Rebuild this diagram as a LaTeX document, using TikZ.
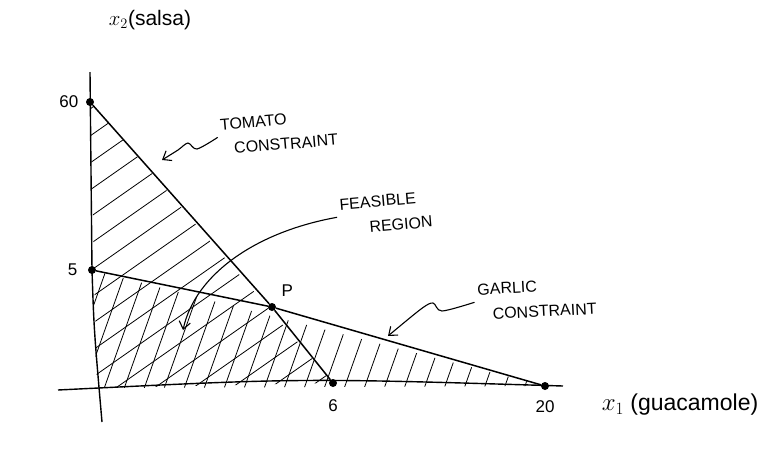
\documentclass[tikz,border=0pt]{standalone}
\usepackage{fontspec}
\setmainfont{Liberation Sans}
\usetikzlibrary{positioning, arrows.meta}

\begin{document}
\begin{tikzpicture}[x=1pt, y=-1pt,
  axis/.style={line width=1.4pt, black},
  bound/.style={line width=1.5pt, black},
  dot/.style={circle, fill=black, inner sep=0pt, minimum size=8pt},
  hatch/.style={line width=0.8pt, black},
  tick/.style={font=\fontsize{17}{19}\selectfont},
  note/.style={align=left, font=\fontsize{16}{25}\selectfont},
  axlabel/.style={font=\fontsize{21}{24}\selectfont},
  pointer/.style={-{Straight Barb[length=2.6mm, width=4mm]}, line width=1.1pt}
]
\useasboundingbox (0,0) rectangle (766,467);

% corner points of the two constraints
\node[dot] (p60) at (90,102) {};
\node[dot] (p5) at (92,270) {};
\node[dot] (p6) at (333,383) {};
\node[dot] (p20) at (545,386) {};
\node[dot] (pP) at (272,307) {};
\coordinate (orig) at (97,388);
\coordinate (ytop) at (90,72);
\coordinate (ybot) at (102,422);
\coordinate (xleft) at (58,390);
\coordinate (xright) at (563,386);

% hatching of the tomato region
\begin{scope}
  \clip (orig) -- (p60.center) -- (p6.center) -- cycle;
  \foreach \k in {0,...,17}
    \draw[hatch] (60,130+27*\k) -- ++(340,-238);
\end{scope}
% hatching of the garlic region
\begin{scope}
  \clip (orig) -- (p5.center) -- (p20.center) -- cycle;
  \foreach \k in {0,...,26}
    \draw[hatch] (60+20*\k,400) -- ++(55,-155);
\end{scope}

% axes
\draw[axis] (ybot) .. controls (94,330) .. (p5.center) -- (ytop);
\draw[axis] (xleft) .. controls (300,378) .. (xright);

% constraint lines
\draw[bound] (p60) -- (pP) -- (p6);
\draw[bound] (p5) -- (pP) -- (p20);

% values on the axes
\node[tick, left=4pt of p60] (l60) {60};
\node[tick, left=7pt of p5] (l5) {5};
\node[tick, below=9pt of p6] (l6) {6};
\node[tick, below=7pt of p20] (l20) {20};
\node[tick, above right=4pt and 3pt of pP] (lP) {P};
\node[axlabel] (ylab) at (150,20) {$x_2$(salsa)};
\node[axlabel, font=\fontsize{23}{26}\selectfont] (xlab) at (680,405) {$x_1$ (guacamole)};

% notes
\node[note, rotate=5] (tomato) at (279,132) {TOMATO\\\hspace*{12pt}CONSTRAINT};
\node[note, rotate=5] (feas) at (386,213) {FEASIBLE\\\hspace*{28pt}REGION};
\node[note, rotate=3] (garlic) at (537,299) {GARLIC\\\hspace*{14pt}CONSTRAINT};
\coordinate (tomatohit) at (162,160);
\coordinate (feashit) at (183,330);
\coordinate (garlichit) at (388,336);

\draw[pointer] plot[smooth] coordinates {(tomato.west) (197,149) (188,143) (178,150) (tomatohit)};
\draw[pointer] (feas.west) .. controls (255,232) and (195,275) .. (feashit);
\draw[pointer] plot[smooth] coordinates {(garlic.west) (442,311) (433,303) (421,309) (garlichit)};
\end{tikzpicture}
\end{document}
